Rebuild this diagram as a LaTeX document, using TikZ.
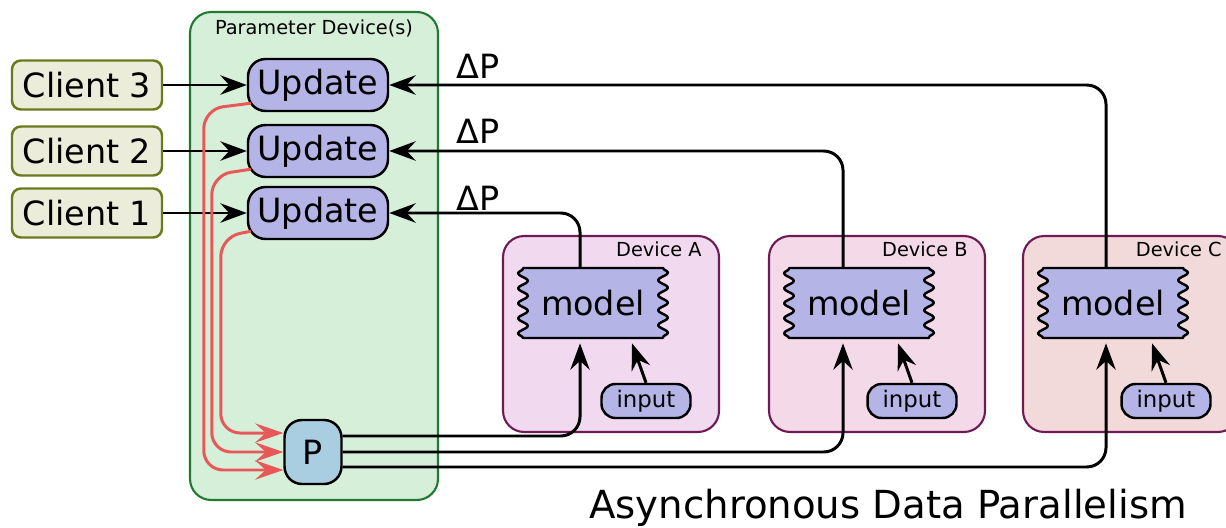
\documentclass[tikz,border=0pt]{standalone}
\usepackage{fontspec}
\setmainfont{DejaVu Sans}
\usetikzlibrary{arrows.meta,decorations.pathmorphing}

\definecolor{pdfill}{HTML}{D6EFD9}
\definecolor{pdline}{HTML}{1F7A2F}
\definecolor{clfill}{HTML}{ECECDA}
\definecolor{clline}{HTML}{6A7A1C}
\definecolor{upfill}{HTML}{B4B4E6}
\definecolor{pfill}{HTML}{A9CEE1}
\definecolor{devA}{HTML}{F1D9F0}
\definecolor{devB}{HTML}{F4DAE8}
\definecolor{devC}{HTML}{F3DADA}
\definecolor{devline}{HTML}{6E1A55}
\definecolor{pull}{HTML}{E85858}

\begin{document}
\begin{tikzpicture}[x=0.02cm, y=-0.02cm,
  >={Stealth[length=15pt,width=11pt,inset=5pt]},
  every node/.style={inner sep=0pt},
  big/.style={font=\fontsize{19}{22}\selectfont},
  small/.style={font=\fontsize{11}{13}\selectfont},
  box/.style={draw, line width=1.4pt, rounded corners=10pt, big},
  client/.style={box, draw=clline, fill=clfill, rounded corners=5pt, minimum width=3cm, minimum height=0.98cm},
  update/.style={box, fill=upfill, minimum width=2.8cm, minimum height=1.04cm},
  pbox/.style={box, fill=pfill, minimum width=1.14cm, minimum height=1.28cm},
  devbox/.style={draw=devline, line width=1.2pt, rounded corners=12pt, minimum width=4.32cm, minimum height=3.92cm},
  modelshape/.style={line width=1.4pt, fill=upfill, line join=round, decoration={snake, amplitude=0.1cm, segment length=0.3cm}},
  model/.style={big, minimum width=3cm, minimum height=1.4cm},
  inbox/.style={box, fill=upfill, rounded corners=8pt, font=\fontsize{13}{15}\selectfont, minimum width=1.78cm, minimum height=0.68cm},
  wire/.style={line width=1.7pt, rounded corners=11pt},
  pullwire/.style={wire, draw=pull, -{Stealth[length=16pt,width=11pt,inset=6pt]}},
]
  \clip (0,0) rectangle (1226,527);

  \node[draw=pdline, fill=pdfill, line width=1.2pt, rounded corners=12pt, minimum width=4.96cm, minimum height=9.76cm] (pd) at (314,256) {};
  \node[small] (pdlab) at (314,28) {Parameter Device(s)};

  \node[client] (c3) at (87,85) {Client 3};
  \node[client] (c2) at (87,151) {Client 2};
  \node[client] (c1) at (87,213) {Client 1};

  \node[update] (u3) at (318,85) {Update};
  \node[update] (u2) at (318,151) {Update};
  \node[update] (u1) at (318,213) {Update};

  \node[pbox] (P) at (313,452) {P};

  \draw[wire,->] (c3) -- (u3);
  \draw[wire,->] (c2) -- (u2);
  \draw[wire,->] (c1) -- (u1);

  \draw[pullwire] ([shift={(4,-9)}]u3.south west) -- ++(-47,6) |- ([yshift=-0.36cm]P.west);
  \draw[pullwire] ([shift={(4,-9)}]u2.south west) -- ++(-39,6) |- (P.west);
  \draw[pullwire] ([shift={(4,-9)}]u1.south west) -- ++(-30,6) |- ([yshift=0.38cm]P.west);

  \node[big] (dp3) at (478,66) {ΔP};
  \node[big] (dp2) at (478,131) {ΔP};
  \node[big] (dp1) at (478,198) {ΔP};

  \foreach \n/\dx/\lx/\u/\py in {A/0/-13/u1/16, B/266/-16/u2/0, C/520/-7/u3/-15} {
    \begin{scope}[xshift=\dx*0.02cm]
      \node[devbox, fill=dev\n] (dev\n) at (611,334) {};
      \node[small, anchor=east] (lab\n) at (702,249) {Device \n};
      \draw[modelshape] (523,268) -- (663,268) decorate {-- (663,338)} -- (523,338) decorate {-- (523,268)} -- cycle;
      \node[model] (m\n) at (593,303) {model};
      \node[inbox] (in\n) at (646,401) {input};
    \end{scope}
    \draw[wire,->] (in\n.north) -- ([xshift=39*0.02cm, yshift=-5*0.02cm]m\n.south);
    \draw[wire,->] ([xshift=\lx*0.02cm]m\n.north) |- (\u.east);
    \draw[wire,->] ([yshift=\py*0.02cm]P.east) -| ([xshift=\lx*0.02cm, yshift=-5*0.02cm]m\n.south);
  }

  \node[font=\fontsize{22}{26}\selectfont, anchor=base] (title) at (888,518) {Asynchronous Data Parallelism};
\end{tikzpicture}
\end{document}
